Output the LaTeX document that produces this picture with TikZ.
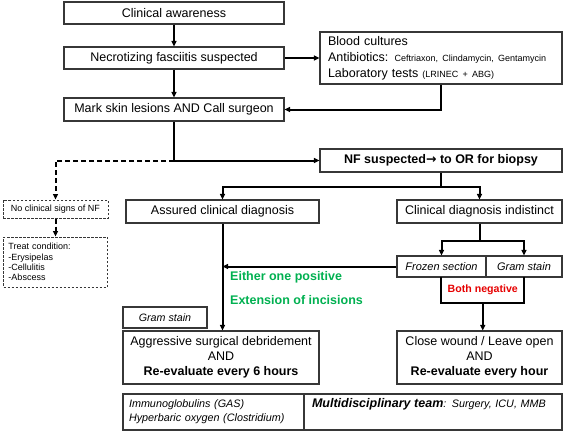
\documentclass[tikz,border=0pt]{standalone}
\usepackage{fontspec}
\setmainfont{Liberation Sans}
\newfontfamily\djv{DejaVu Sans}
\usetikzlibrary{arrows.meta}
\definecolor{boxline}{RGB}{55,55,55}
\definecolor{okgreen}{RGB}{0,176,80}
\definecolor{negred}{RGB}{230,0,0}
\newcommand{\fsz}[2]{\fontsize{#1}{#2}\selectfont}
\begin{document}
\begin{tikzpicture}[x=1pt,y=-1pt,
 box/.style={draw=boxline,line width=1.1pt,fill=white,inner sep=0pt,align=center,font=\fsz{12.5}{15}},
 dbox/.style={box,line width=1pt,dash pattern=on 2.5pt off 1.5pt,font=\fsz{9}{10.3}},
 conn/.style={line width=2pt,draw=black},
 arr/.style={conn,-{Triangle[length=5.5pt,width=5pt]}},
 darr/.style={arr,dash pattern=on 5pt off 3pt},
 note/.style={inner sep=0pt,anchor=west,font=\bfseries\fsz{12.5}{15},text=okgreen}]
\useasboundingbox (0,0) rectangle (567,432);
\node[box,minimum width=220pt,minimum height=22pt] (ca) at (174,13) {Clinical awareness};
\node[box,minimum width=220pt,minimum height=22pt] (nfs) at (174,58) {Necrotizing fasciitis suspected};
\node[box,minimum width=242pt,minimum height=52pt,align=left,text width=226pt,inner xsep=8pt,font=\fsz{12.5}{16}] (bc) at (441,58) {Blood cultures\\Antibiotics: {\fsz{9}{16}Ceftriaxon, Clindamycin, Gentamycin}\\Laboratory tests {\fsz{9}{16}(LRINEC + ABG)}};
\node[box,minimum width=220pt,minimum height=23pt] (mk) at (174,109.5) {Mark skin lesions AND Call surgeon};
\node[box,minimum width=242pt,minimum height=23pt,font=\bfseries\fsz{12.5}{15}] (nfo) at (441,160.5) {NF suspected{\djv\bfseries →} to OR for biopsy};
\node[box,minimum width=193pt,minimum height=23pt] (ad) at (222.5,211.5) {Assured clinical diagnosis};
\node[box,minimum width=165pt,minimum height=23pt] (cdi) at (479.5,211.5) {Clinical diagnosis indistinct};
\node[dbox,minimum width=105pt,minimum height=18pt] (ncs) at (55.5,209) {No clinical signs of NF};
\node[dbox,minimum width=104pt,minimum height=50pt,align=left,text width=94pt,inner xsep=5pt] (tc) at (55.5,262) {Treat condition:\\-Erysipelas\\-Cellulitis\\-Abscess};
\node[box,minimum width=89pt,minimum height=21pt,font=\itshape\fsz{11}{13}] (fs) at (441.5,266.5) {Frozen section};
\node[box,minimum width=76pt,minimum height=21pt,font=\itshape\fsz{11}{13}] (gs) at (524,266.5) {Gram stain};
\node[minimum width=82.5pt,minimum height=26pt,inner sep=0pt,font=\bfseries\fsz{10.6}{12},text=negred] (bn) at (482.75,290) {\raisebox{-3pt}{Both negative}};
\node[box,minimum width=84pt,minimum height=21pt,font=\itshape\fsz{10.7}{13}] (gsm) at (165,317.5) {Gram stain};
\node[box,minimum width=196pt,minimum height=53pt] (ag) at (221,357.5) {Aggressive surgical debridement\\AND\\\textbf{Re-evaluate every 6 hours}};
\node[box,minimum width=165pt,minimum height=53pt] (cw) at (479.5,357.5) {Close wound / Leave open\\AND\\\textbf{Re-evaluate every hour}};
\node[box,minimum width=181pt,minimum height=36pt,align=left,text width=169pt,inner xsep=6pt,font=\itshape\fsz{10.8}{14}] (imm) at (213.5,412) {Immunoglobulins (GAS)\\Hyperbaric oxygen (Clostridium)};
\node[box,minimum width=258pt,minimum height=36pt,align=left,text width=242pt,inner xsep=8pt,font=\itshape\fsz{10.8}{14}] (mdt) at (433,412) {{\bfseries\fsz{12.5}{14}Multidisciplinary team}: Surgery, ICU, MMB\\\strut};
\node[note] (e1) at (230,277) {Either one positive};
\node[note] (e2) at (230,300) {Extension of incisions};
% connectors
\draw[arr] (ca) -- (nfs);
\draw[arr] (nfs) -- (bc);
\draw[arr] (nfs) -- (mk);
\draw[arr] (bc.south) |- (mk.east);
\draw[arr] (mk.south) |- (nfo.west);
\coordinate (j1) at (mk.south |- nfo.west);
\draw[darr] (j1) -| (ncs.north);
\draw[darr] (ncs) -- (tc);
\path (nfo.south) ++(0,14) coordinate (s1);
\draw[conn] (nfo.south) -- (s1);
\draw[arr] (s1) -| (ad.north);
\draw[arr] (s1) -| (cdi.north);
\path (cdi.south) ++(0,17) coordinate (s2);
\draw[conn] (cdi.south) -- (s2);
\draw[arr] (s2) -| (fs.north);
\draw[arr] (s2) -| (gs.north);
\draw[arr] (fs.west) -- (fs.west -| ad.south);
\draw[arr] (ad.south) -- (ad.south |- ag.north);
\draw[conn,line width=2.2pt] (bn.north west) -- (bn.south west) -- (bn.south east) -- (bn.north east);
\draw[arr] (bn.south) -- (bn.south |- cw.north);
\end{tikzpicture}
\end{document}
